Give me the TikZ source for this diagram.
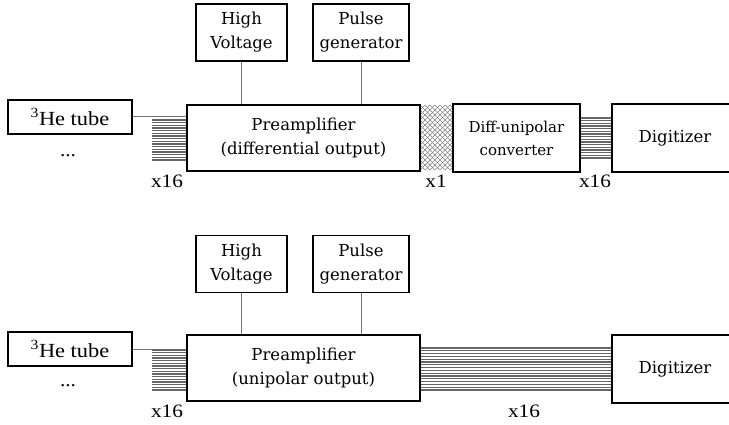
\documentclass[tikz,border=0pt]{standalone}
\usepackage{fontspec}
\setmainfont{Liberation Serif}[FakeStretch=1.12]
\newfontfamily\boxfont{DejaVu Serif}
\begin{document}
\begin{tikzpicture}[x=1pt,y=-1pt,
  blk/.style={draw=black, line width=1.3pt, fill=white, inner sep=0pt, align=center,
    font=\boxfont\fontsize{16.5}{24}\selectfont},
  tubebox/.style={blk, font=\fontsize{20}{22}\selectfont},
  smallblk/.style={blk, font=\boxfont\fontsize{15}{23}\selectfont},
  lead/.style={draw=black!55, line width=1pt},
  wire/.style={draw=black!60, line width=1.2pt},
  mesh/.style={draw=black!50, line width=0.7pt},
  lbl/.style={font=\fontsize{19}{21}\selectfont, inner sep=0pt}]
\useasboundingbox (0,0) rectangle (729,425);
\clip (0,0) rectangle (729,425);

% ---------- chain with differential output ----------
\node[tubebox, minimum width=124pt, minimum height=34pt] (tube1) at (70,117) {\textsuperscript{3}He tube};
\node[lbl] (dots1) at (68,156) {...};
\node[blk, minimum width=233pt, minimum height=66pt] (pre1) at (303.5,138) {Preamplifier\\(differential output)};
\node[blk, minimum width=91pt, minimum height=57pt] (hv1) at (241.5,32.5) {High\\Voltage};
\node[blk, minimum width=96pt, minimum height=57pt] (pg1) at (361,32.5) {Pulse\\generator};
\node[smallblk, minimum width=127pt, minimum height=68pt] (conv) at (516.5,138) {Diff-unipolar\\converter};
\node[blk, minimum width=126pt, minimum height=68pt] (dig1) at (675,138) {Digitizer};

\draw[lead] (tube1.east) -- (tube1.east -| pre1.west);
\draw[lead] (hv1.south) -- (hv1.south |- pre1.north);
\draw[lead] (pg1.south) -- (pg1.south |- pre1.north);

% 16 parallel channels into the preamplifier
\foreach \i in {0,...,15}{
  \pgfmathsetmacro{\yy}{120+\i*2.667}
  \draw[wire] (152,\yy) -- (pre1.west |- 0,\yy);
}
% single twisted differential cable
\begin{scope}
  \clip (pre1.east |- 0,105) rectangle (conv.west |- 0,170);
  \foreach \k in {-80,-75,...,100}{
    \draw[mesh] (420+\k,105) -- ++(70,70);
    \draw[mesh] (420+\k,175) -- ++(70,-70);
  }
\end{scope}
\draw[line width=1.3pt] (pre1.north east) -- (pre1.south east);
\draw[line width=1.3pt] (conv.north west) -- (conv.south west);
% 16 unipolar channels into the digitizer
\foreach \i in {0,...,15}{
  \pgfmathsetmacro{\yy}{118+\i*2.667}
  \draw[wire] (conv.east |- 0,\yy) -- (dig1.west |- 0,\yy);
}

\node[lbl] (n1) at (167,181) {x16};
\node[lbl] (n2) at (436,181) {x1};
\node[lbl] (n3) at (595,181) {x16};

% ---------- chain with unipolar output ----------
\node[tubebox, minimum width=124pt, minimum height=34pt] (tube2) at (70,349) {\textsuperscript{3}He tube};
\node[lbl] (dots2) at (68,386) {...};
\node[blk, minimum width=233pt, minimum height=66pt] (pre2) at (303.5,368) {Preamplifier\\(unipolar output)};
\node[blk, minimum width=91pt, minimum height=57pt] (hv2) at (241.5,264) {High\\Voltage};
\node[blk, minimum width=96pt, minimum height=57pt] (pg2) at (361,264) {Pulse\\generator};
\node[blk, minimum width=126pt, minimum height=68pt] (dig2) at (675,369) {Digitizer};

\draw[lead] (tube2.east) -- (tube2.east -| pre2.west);
\draw[lead] (hv2.south) -- (hv2.south |- pre2.north);
\draw[lead] (pg2.south) -- (pg2.south |- pre2.north);

\foreach \i in {0,...,15}{
  \pgfmathsetmacro{\yy}{350+\i*2.667}
  \draw[wire] (152,\yy) -- (pre2.west |- 0,\yy);
}
\foreach \i in {0,...,15}{
  \pgfmathsetmacro{\yy}{348+\i*2.8}
  \draw[wire] (pre2.east |- 0,\yy) -- (dig2.west |- 0,\yy);
}

\node[lbl] (n4) at (167,411) {x16};
\node[lbl] (n5) at (524,411) {x16};
\end{tikzpicture}
\end{document}
